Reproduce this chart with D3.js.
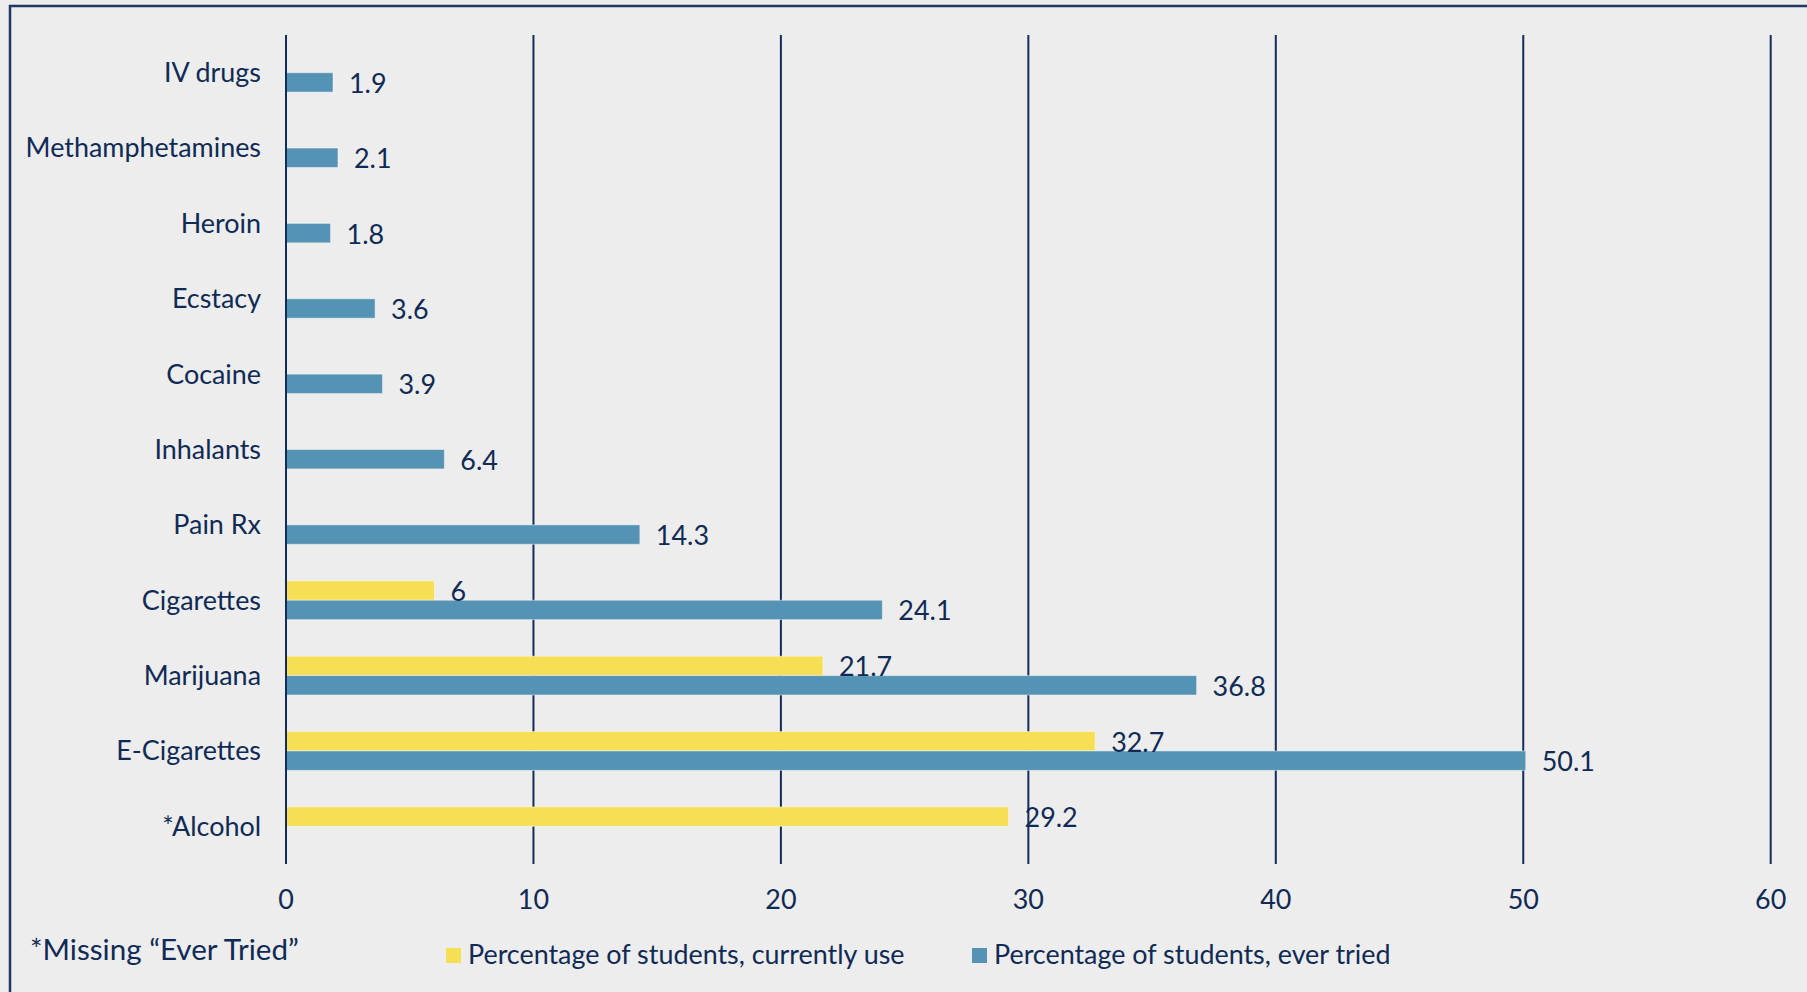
<!DOCTYPE html>
<html>
<head>
<meta charset="utf-8">
<script src="https://cdn.jsdelivr.net/npm/d3@7"></script>
<style>
  html, body { margin: 0; padding: 0; background: #ededed; }
  text { font-family: Lato, "Noto Sans", sans-serif; fill: #0f2a55; }
</style>
</head>
<body>
<svg id="mainFrame"></svg>
<script>
// categories top to bottom
const categories = ['IV drugs', 'Methamphetamines', 'Heroin', 'Ecstacy', 'Cocaine',
    'Inhalants', 'Pain Rx', 'Cigarettes', 'Marijuana', 'E-Cigarettes', '*Alcohol']
const currentlyUse = [null, null, null, null, null, null, null, 6, 21.7, 32.7, 29.2]
const everTried = [1.9, 2.1, 1.8, 3.6, 3.9, 6.4, 14.3, 24.1, 36.8, 50.1, null]
const xTicks = [0, 10, 20, 30, 40, 50, 60]
const seriesNames = ['Percentage of students, currently use', 'Percentage of students, ever tried']
const footnote = '*Missing \u201cEver Tried\u201d'

const colors = { current: '#f6df55', ever: '#5593b4' }
const navy = '#132d5a'
const fontSize = '26.9px'

const width = 1807, height = 992
const svg = d3.select('#mainFrame')
    .attr('width', width)
    .attr('height', height)

svg.append('rect')
    .attr('width', width).attr('height', height)
    .attr('fill', '#ededed')

// outer frame (only left and top edges show)
svg.append('path')
    .attr('d', `M10,${height} V6 H${width}`)
    .attr('fill', 'none')
    .attr('stroke', '#1f3864')
    .attr('stroke-width', 2.5)

const x = d3.scaleLinear().domain([0, 60]).range([286, 1770.7])
const y = d3.scaleBand().domain(categories).range([35, 864])
const sub = d3.scaleBand().domain(['current', 'ever'])
    .range([0, y.bandwidth()])
    .paddingOuter(0.94)

const rows = categories.map((c, i) => ({
    cat: c,
    bars: [
        { key: 'current', value: currentlyUse[i] },
        { key: 'ever', value: everTried[i] }
    ].filter(b => b.value != null)
}))

// grid lines
svg.append('g')
    .selectAll('line')
    .data(xTicks)
    .join('line')
    .attr('x1', d => x(d)).attr('x2', d => x(d))
    .attr('y1', 35).attr('y2', 864)
    .attr('stroke', navy)
    .attr('stroke-width', 2)

// tick labels
svg.append('g')
    .selectAll('text')
    .data(xTicks)
    .join('text')
    .attr('x', d => x(d))
    .attr('y', 909)
    .attr('text-anchor', 'middle')
    .style('font-size', fontSize)
    .text(d => d)

// category labels
svg.append('g')
    .selectAll('text')
    .data(categories)
    .join('text')
    .attr('x', 261)
    .attr('y', d => y(d) + y.bandwidth() / 2)
    .attr('dy', '0.35em')
    .attr('text-anchor', 'end')
    .style('font-size', fontSize)
    .text(d => d)

const groups = svg.append('g')
    .selectAll('g')
    .data(rows)
    .join('g')
    .attr('transform', d => `translate(0,${y(d.cat)})`)

groups.selectAll('rect')
    .data(d => d.bars)
    .join('rect')
    .attr('x', x(0))
    .attr('y', d => sub(d.key))
    .attr('width', d => x(d.value) - x(0))
    .attr('height', sub.bandwidth())
    .attr('fill', d => colors[d.key])
    .attr('stroke', 'rgba(255,255,255,0.45)')
    .attr('stroke-width', 1)

groups.selectAll('text')
    .data(d => d.bars)
    .join('text')
    .attr('x', d => x(d.value) + 16)
    .attr('y', d => sub(d.key) + sub.bandwidth() / 2 + 1)
    .attr('dy', '0.35em')
    .style('font-size', fontSize)
    .text(d => d.value)

// axis line at zero on top of bars
svg.append('line')
    .attr('x1', x(0)).attr('x2', x(0))
    .attr('y1', 35).attr('y2', 864)
    .attr('stroke', navy)
    .attr('stroke-width', 2)

// footnote
svg.append('text')
    .attr('x', 30)
    .attr('y', 960)
    .style('font-size', '29.6px')
    .text(footnote)

// legend
const legendItems = [
    { name: seriesNames[0], color: colors.current, x: 446 },
    { name: seriesNames[1], color: colors.ever, x: 972 }
]
const legend = svg.append('g')
    .selectAll('g')
    .data(legendItems)
    .join('g')
    .attr('transform', d => `translate(${d.x},948)`)

legend.append('rect')
    .attr('width', 15).attr('height', 15)
    .attr('fill', d => d.color)

legend.append('text')
    .attr('x', 22)
    .attr('y', 16)
    .style('font-size', fontSize)
    .text(d => d.name)
</script>
</body>
</html>
